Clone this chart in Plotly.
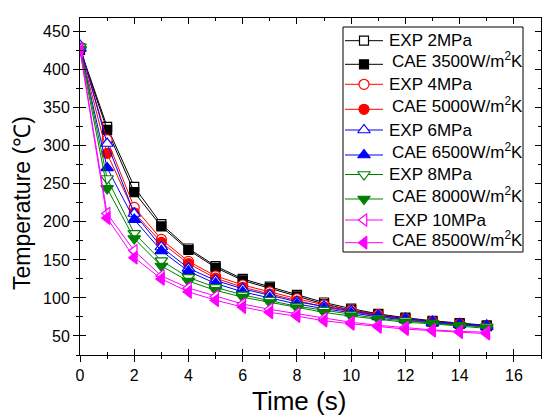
import plotly.graph_objects as go

time_s = list(range(16))

exp_2mpa   = [428, 325, 246, 197, 165, 142, 125, 115, 104, 94, 86, 79, 74, 70, 67, 64]
cae_3500   = [426, 321, 239, 194, 163, 140, 123, 113, 102, 92, 84, 78, 73, 69, 66, 63]
exp_4mpa   = [430, 308, 219, 177, 148, 129, 117, 108, 99, 91, 84, 78, 73, 69, 66, 63]
cae_5000   = [428, 290, 212, 173, 145, 126, 114, 105, 96, 88, 82, 76, 72, 68, 65, 62]
exp_6mpa   = [432, 303, 211, 167, 139, 123, 112, 104, 95, 89, 83, 77, 73, 69, 66, 64]
cae_6500   = [428, 271, 203, 162, 135, 119, 108, 100, 92, 86, 80, 75, 71, 67, 65, 62]
exp_8mpa   = [430, 257, 185, 149, 127, 114, 104, 97, 89, 84, 78, 73, 70, 67, 64, 62]
cae_8000   = [427, 244, 178, 142, 122, 110, 101, 94, 87, 81, 76, 72, 68, 66, 63, 60]
exp_10mpa  = [427, 211, 162, 129, 113, 102, 92, 85, 79, 73, 68, 64, 61, 58, 56, 55]
cae_8500   = [425, 205, 153, 125, 108, 97, 88, 81, 76, 70, 66, 62, 59, 57, 55, 53]

names = ["EXP 2MPa", "CAE 3500W/m<sup>2</sup>K", "EXP 4MPa", "CAE 5000W/m<sup>2</sup>K",
         "EXP 6MPa", "CAE 6500W/m<sup>2</sup>K", "EXP 8MPa", "CAE 8000W/m<sup>2</sup>K",
         " EXP 10MPa", "CAE 8500W/m<sup>2</sup>K"]
series = [exp_2mpa, cae_3500, exp_4mpa, cae_5000, exp_6mpa, cae_6500,
          exp_8mpa, cae_8000, exp_10mpa, cae_8500]
colors = ["#000000", "#000000", "#FF0000", "#FF0000", "#0000FF", "#0000FF",
          "#008000", "#008000", "#FF00FF", "#FF00FF"]
symbols = ["square", "square", "circle", "circle", "triangle-up", "triangle-up",
           "triangle-down", "triangle-down", "triangle-left", "triangle-left"]
is_open = [True, False] * 5
sizes = [9, 9, 10, 10, 11, 11, 11, 11, 11, 11]

# legend layout (pixel coordinates of the page)
leg_box = dict(x0=343, x1=523, y0=27, y1=252)
leg_rows = [40.7, 64.3, 84.3, 109.3, 130, 155, 174.5, 199, 220, 242.7]
leg_line_x = [345, 383]
leg_marker_x = 364
leg_text_x = [387, 390, 387, 390, 387, 390, 387, 390, 387, 390]

PLOT_L, PLOT_R, PLOT_T, PLOT_B = 80, 541, 18, 355
W, H = 543, 416

font_fam = "Arial, Liberation Sans, sans-serif"
xr = [0, 17]
yr = [25, 468]

fig = go.Figure()
for nm, ys, c, s, op, sz in zip(names, series, colors, symbols, is_open, sizes):
    fig.add_trace(go.Scatter(
        x=time_s, y=ys, name=nm, mode="lines+markers", showlegend=False,
        line=dict(color=c, width=1),
        marker=dict(symbol=s, size=sz, color="white" if op else c,
                    line=dict(color=c, width=1.2)),
    ))

# custom legend drawn on a pixel-coordinate overlay axis
shapes = [dict(type="rect", xref="x3", yref="y3", x0=leg_box["x0"], x1=leg_box["x1"],
               y0=leg_box["y0"], y1=leg_box["y1"], line=dict(color="black", width=1),
               fillcolor="white", layer="below")]
annotations = []
for i, (nm, c, s, op, sz) in enumerate(zip(names, colors, symbols, is_open, sizes)):
    yy = leg_rows[i]
    fig.add_trace(go.Scatter(
        x=leg_line_x, y=[yy, yy], xaxis="x3", yaxis="y3", mode="lines",
        line=dict(color=c, width=1), showlegend=False, hoverinfo="skip"))
    fig.add_trace(go.Scatter(
        x=[leg_marker_x], y=[yy], xaxis="x3", yaxis="y3", mode="markers",
        marker=dict(symbol=s, size=sz, color="white" if op else c,
                    line=dict(color=c, width=1.2)),
        showlegend=False, hoverinfo="skip"))
    annotations.append(dict(text=nm, xref="x3", yref="y3", x=leg_text_x[i], y=yy,
                            xanchor="left", yanchor="middle", showarrow=False,
                            yshift=4 if "<sup>" in nm else 0,
                            font=dict(size=17, family=font_fam, color="black")))

common_x = dict(range=xr, dtick=2, tick0=0, showgrid=False, zeroline=False,
                showline=True, linecolor="black", linewidth=1, tickcolor="black",
                ticklen=6, tickwidth=1)
common_y = dict(range=yr, dtick=50, tick0=0, showgrid=False, zeroline=False,
                showline=True, linecolor="black", linewidth=1, tickcolor="black",
                ticklen=6, tickwidth=1)

annotations += [
    dict(text="Time (s)", xref="paper", yref="paper",
         x=(299 - PLOT_L) / (PLOT_R - PLOT_L), y=(PLOT_B - 401) / (PLOT_B - PLOT_T),
         xanchor="center", yanchor="middle", showarrow=False,
         font=dict(size=26, family=font_fam)),
    dict(text="Temperature (℃)", xref="paper", yref="paper",
         x=(22 - PLOT_L) / (PLOT_R - PLOT_L), y=(PLOT_B - 203) / (PLOT_B - PLOT_T),
         xanchor="center", yanchor="middle", showarrow=False, textangle=-90,
         font=dict(size=23, family=font_fam)),
]

fig.update_layout(
    width=W, height=H,
    margin=dict(l=PLOT_L, r=W - PLOT_R, t=PLOT_T, b=H - PLOT_B),
    paper_bgcolor="white", plot_bgcolor="white",
    font=dict(family=font_fam, color="black"),
    showlegend=False,
    xaxis=dict(**common_x, ticks="outside", mirror=False,
               tickfont=dict(size=16, family=font_fam),
               minor=dict(dtick=1, ticks="outside", ticklen=3, tickcolor="black", showgrid=False)),
    yaxis=dict(**common_y, ticks="outside", mirror=False,
               tickfont=dict(size=16, family=font_fam),
               minor=dict(dtick=25, ticks="outside", ticklen=3, tickcolor="black", showgrid=False)),
    xaxis2=dict(**common_x, overlaying="x", anchor="y", side="bottom", ticks="inside",
                mirror="ticks", showticklabels=False,
                minor=dict(dtick=1, ticks="inside", ticklen=3, tickcolor="black", showgrid=False)),
    yaxis2=dict(**common_y, overlaying="y", anchor="x", side="left", ticks="inside",
                mirror="ticks", showticklabels=False,
                minor=dict(dtick=25, ticks="inside", ticklen=3, tickcolor="black", showgrid=False)),
    xaxis3=dict(overlaying="x", anchor="y3", range=[PLOT_L, PLOT_R], visible=False, fixedrange=True),
    yaxis3=dict(overlaying="y", anchor="x3", range=[PLOT_B, PLOT_T], visible=False, fixedrange=True),
    shapes=shapes,
    annotations=annotations,
)

fig.add_trace(go.Scatter(x=[None], y=[None], xaxis="x2", yaxis="y2",
                         showlegend=False, hoverinfo="skip"))

fig.write_html("out.html")
